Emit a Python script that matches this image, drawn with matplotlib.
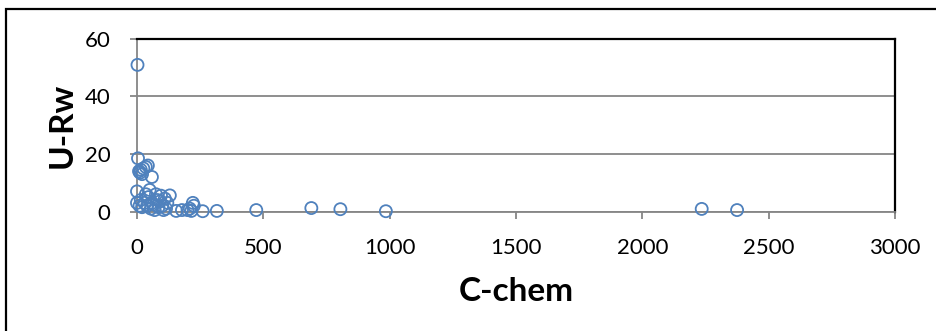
import matplotlib
matplotlib.use("Agg")
import matplotlib.pyplot as plt
from matplotlib.patches import Rectangle

c_chem = [2, 4, 8, 12, 15, 20, 25, 35, 43, 59,
          0, 0, 10, 15, 20, 30, 35, 40, 45, 50,
          55, 60, 65, 70, 75, 80, 85, 90, 95, 100,
          105, 110, 115, 120, 130, 155, 178, 200, 209, 215,
          221, 225, 260, 316, 472, 690, 805, 985, 2235, 2375]
u_rw = [51, 18.5, 14, 13.5, 14.5, 13, 15, 15.5, 16, 12,
        7, 3, 2, 4, 1.5, 3, 6, 2, 5, 7.5,
        1, 3, 2.5, 0.5, 6, 4, 1.5, 3.5, 5.5, 2,
        0.5, 4.5, 1, 3, 5.6, 0.2, 0.5, 0.5, 1, 0.2,
        3, 2, 0.1, 0.2, 0.5, 1.2, 0.8, 0.1, 0.9, 0.5]

xticks = [0, 500, 1000, 1500, 2000, 2500, 3000]
yticks = [0, 20, 40, 60]

plt.rcParams['font.family'] = ['Lato', 'DejaVu Sans']

fig = plt.figure(figsize=(9.37, 3.31), dpi=100)
fig.patches.append(Rectangle((6/937, -0.1), 1.0, (331-9)/331 + 0.1, transform=fig.transFigure,
                             fill=False, edgecolor='black', linewidth=1.6))
ax = fig.add_axes([137/937, 1 - 211.5/331, (895-137)/937, (211.5-39)/331])

ax.scatter(c_chem, u_rw, s=75, facecolors='none', edgecolors='#4F81BD', linewidths=1.3,
           zorder=3, clip_on=False)

ax.set_xlim(0, 3000)
ax.set_ylim(0, 60)
ax.set_xticks(xticks)
ax.set_yticks(yticks)
ax.set_xticklabels([str(v) for v in xticks], fontsize=16)
ax.set_yticklabels([str(v) for v in yticks], fontsize=16)
ax.yaxis.grid(True, color='#868686', linewidth=1.3)
ax.set_axisbelow(True)
for s in ['top', 'right']:
    ax.spines[s].set_color('black')
    ax.spines[s].set_linewidth(1.6)
for s in ['bottom', 'left']:
    ax.spines[s].set_color('#868686')
    ax.spines[s].set_linewidth(1.3)
ax.tick_params(axis='x', direction='out', length=5, width=1.3, color='#868686', pad=14)
ax.tick_params(axis='y', direction='out', length=5, width=1.3, color='#868686', pad=14)

ax.set_xlabel('C-chem', fontsize=24, fontweight='bold', labelpad=14)
ax.set_ylabel('U-Rw', fontsize=24, fontweight='bold', labelpad=6)

fig.savefig('out.png', dpi=100)
